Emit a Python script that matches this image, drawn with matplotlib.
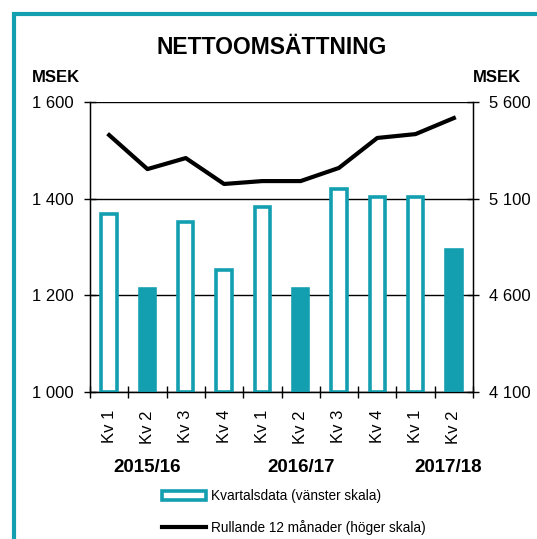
import numpy as np
import matplotlib
matplotlib.use("Agg")
import matplotlib.pyplot as plt
from matplotlib.ticker import FuncFormatter, FixedLocator
from matplotlib.patches import Rectangle

plt.rcParams['font.family'] = ['Liberation Sans', 'DejaVu Sans']

# data
quarters = ['Kv 1', 'Kv 2', 'Kv 3', 'Kv 4', 'Kv 1', 'Kv 2', 'Kv 3', 'Kv 4', 'Kv 1', 'Kv 2']
quarterly = [1368, 1213, 1352, 1252, 1383, 1213, 1420, 1403, 1403, 1294]
filled = [False, True, False, False, False, True, False, False, False, True]
rolling12 = [5429, 5253, 5310, 5176, 5191, 5191, 5259, 5414, 5434, 5517]
years = ['2015/16', '2016/17', '2017/18']
year_pos = [1, 5, 8.85]

teal = '#139FAF'

def sek(v, pos=None):
    return f"{int(v):,}".replace(",", " ")

fig = plt.figure(figsize=(5.37, 5.39), dpi=100)
ax = fig.add_axes([90/537, 1-392/539, 383/537, 290/539])

x = np.arange(len(quarterly))
base = 1000
bars = ax.bar(x, np.array(quarterly) - base, bottom=base, width=0.40,
              color=[teal if f else 'white' for f in filled],
              edgecolor=teal, linewidth=2.6, zorder=3,
              label='Kvartalsdata (vänster skala)')
ax.set_xlim(-0.5, len(quarterly) - 0.5)
ax.set_ylim(1000, 1600)
ax.set_yticks([1000, 1200, 1400, 1600])
ax.yaxis.set_major_formatter(FuncFormatter(sek))
ax.yaxis.grid(True, color='black', linewidth=1)
ax.set_axisbelow(True)

# ticks at category borders, labels at centers
ax.xaxis.set_major_locator(FixedLocator(np.arange(-0.5, len(quarterly), 1)))
ax.xaxis.set_major_formatter(FuncFormatter(lambda v, p: ''))
ax.xaxis.set_minor_locator(FixedLocator(x))
ax.set_xticklabels(quarters, minor=True, rotation=90, fontsize=12)
ax.tick_params(axis='x', which='minor', length=0, pad=13)
ax.tick_params(axis='x', which='major', direction='inout', length=9, width=1)
ax.tick_params(axis='y', direction='inout', length=9, width=1, labelsize=12, pad=7)
ax.spines['top'].set_visible(False)
for s in ['left', 'bottom']:
    ax.spines[s].set_linewidth(1)

ax2 = ax.twinx()
line, = ax2.plot(x, rolling12, color='black', linewidth=3, zorder=4,
                 label='Rullande 12 månader (höger skala)')
ax2.set_ylim(4100, 5600)
ax2.set_yticks([4100, 4600, 5100, 5600])
ax2.yaxis.set_major_formatter(FuncFormatter(sek))
ax2.tick_params(axis='y', direction='inout', length=9, width=1, labelsize=12, pad=7)
ax2.spines['top'].set_visible(False)
ax2.spines['right'].set_linewidth(1)

for lbl, xp in zip(years, year_pos):
    ax.text(xp, -0.262, lbl, transform=ax.get_xaxis_transform(),
            ha='center', va='center', fontsize=13.5, fontweight='bold')

fig.text(272/537, 1-48/539, 'NETTOOMSÄTTNING', ha='center', va='center',
         fontsize=16.5, fontweight='bold')
fig.text(32/537, 1-78/539, 'MSEK', ha='left', va='center', fontsize=12, fontweight='bold')
fig.text(473/537, 1-78/539, 'MSEK', ha='left', va='center', fontsize=12, fontweight='bold')

leg = fig.legend([bars[0], line], ['Kvartalsdata (vänster skala)', 'Rullande 12 månader (höger skala)'],
                 loc='upper left', bbox_to_anchor=(150/537, 1-477/539), frameon=False,
                 fontsize=9.8, handlelength=3.2, handletextpad=0.4, labelspacing=1.25)

# teal frame (partly cropped in the reference)
fig.add_artist(Rectangle((14/537, -0.5), 2, 0.5 + (1 - 14/539), transform=fig.transFigure,
                         fill=False, edgecolor=teal, linewidth=3, clip_on=False))

fig.savefig('out.png', dpi=100)
